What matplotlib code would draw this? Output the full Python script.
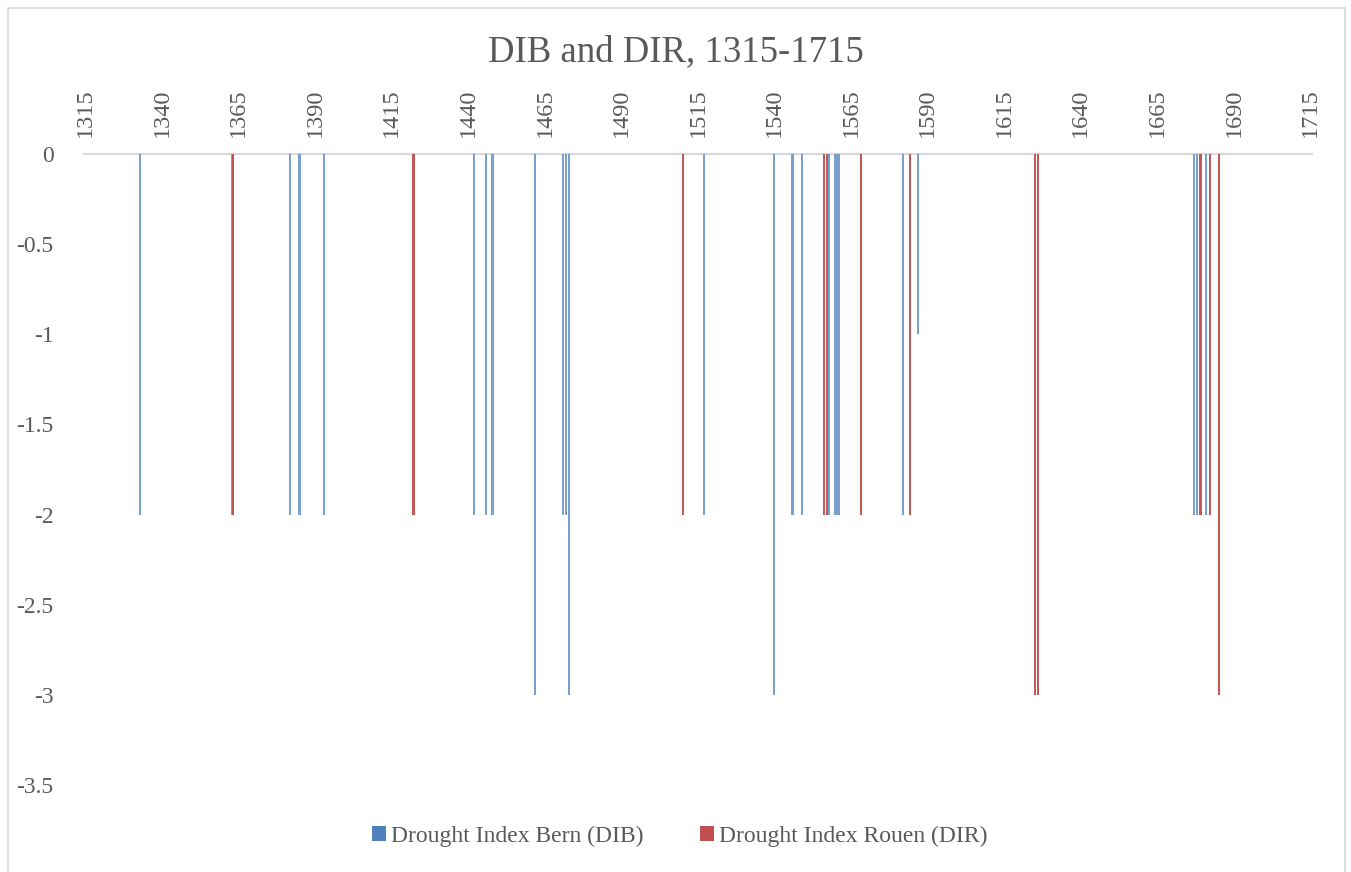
import matplotlib
matplotlib.use("Agg")
import matplotlib.pyplot as plt
from matplotlib.patches import Rectangle

# Data
dib_years = [1333, 1363, 1382, 1385, 1393, 1442, 1446, 1448, 1462, 1471, 1472, 1473,
             1517, 1540, 1546, 1549, 1558, 1560, 1561, 1582, 1587, 1677, 1678, 1681]
dib_values = [-2, -2, -2, -2, -2, -2, -2, -2, -3, -2, -2, -3,
              -2, -3, -2, -2, -2, -2, -2, -2, -1, -2, -2, -2]

dir_years = [1363, 1422, 1510, 1556, 1557, 1568, 1584, 1625, 1626, 1679, 1682, 1685]
dir_values = [-2, -2, -2, -2, -2, -2, -2, -3, -3, -2, -2, -3]

x_ticks = list(range(1315, 1716, 25))
y_ticks = [0, -0.5, -1, -1.5, -2, -2.5, -3, -3.5]
y_labels = ["0", "-0.5", "-1", "-1.5", "-2", "-2.5", "-3", "-3.5"]

title = "DIB and DIR, 1315-1715"
label_dib = "Drought Index Bern (DIB)"
label_dir = "Drought Index Rouen (DIR)"

blue = "#4F81BD"
red = "#C0504D"
text_gray = "#595959"
line_gray = "#D9D9D9"

plt.rcParams["font.family"] = ["Liberation Serif", "DejaVu Serif"]

W, H = 1351, 872
fig = plt.figure(figsize=(W / 100, H / 100), dpi=100)
fig.patch.set_facecolor("white")

# chart border
fig.patches.append(Rectangle((8 / W, -0.01), (1345 - 8) / W, 1 - 8 / H + 0.01,
                             transform=fig.transFigure, fill=False,
                             edgecolor=line_gray, linewidth=1.2))

left, right = 84 / W, 1312 / W
top, bottom = 1 - 154 / H, 1 - 785 / H
ax = fig.add_axes([left, bottom, right - left, top - bottom])

bw = 0.72
ax.bar([y - 0.12 for y in dib_years], dib_values, width=bw, color=blue,
       linewidth=0, label=label_dib, zorder=2, alpha=0.75)
ax.bar([y + 0.12 for y in dir_years], dir_values, width=bw, color=red,
       linewidth=0, label=label_dir, zorder=3, alpha=0.95)

ax.set_xlim(1314.5, 1715.5)
ax.set_ylim(-3.5, 0)

ax.xaxis.tick_top()
ax.set_xticks(x_ticks)
ax.set_xticklabels([str(t) for t in x_ticks], rotation=90, fontsize=17.5,
                   color=text_gray)
ax.tick_params(axis="x", length=0, pad=12)

ax.set_yticks(y_ticks)
ax.set_yticklabels(y_labels, fontsize=17, color=text_gray)
ax.tick_params(axis="y", length=0, pad=22)

for s in ["left", "right", "bottom"]:
    ax.spines[s].set_visible(False)
ax.spines["top"].set_color(line_gray)
ax.spines["top"].set_linewidth(1.5)
ax.spines["top"].set_zorder(1)

fig.text(0.5, 1 - 52 / H, title, ha="center", va="center", fontsize=26.5,
         color=text_gray)

leg = fig.legend(loc="center", bbox_to_anchor=(0.503, 1 - 836 / H), ncol=2,
                 frameon=False, fontsize=17, handlelength=0.6, handleheight=0.6,
                 handletextpad=0.2, columnspacing=2.4)
for h in leg.legend_handles:
    h.set_alpha(1)
for t in leg.get_texts():
    t.set_color(text_gray)

fig.savefig("out.png", dpi=100, facecolor="white")
